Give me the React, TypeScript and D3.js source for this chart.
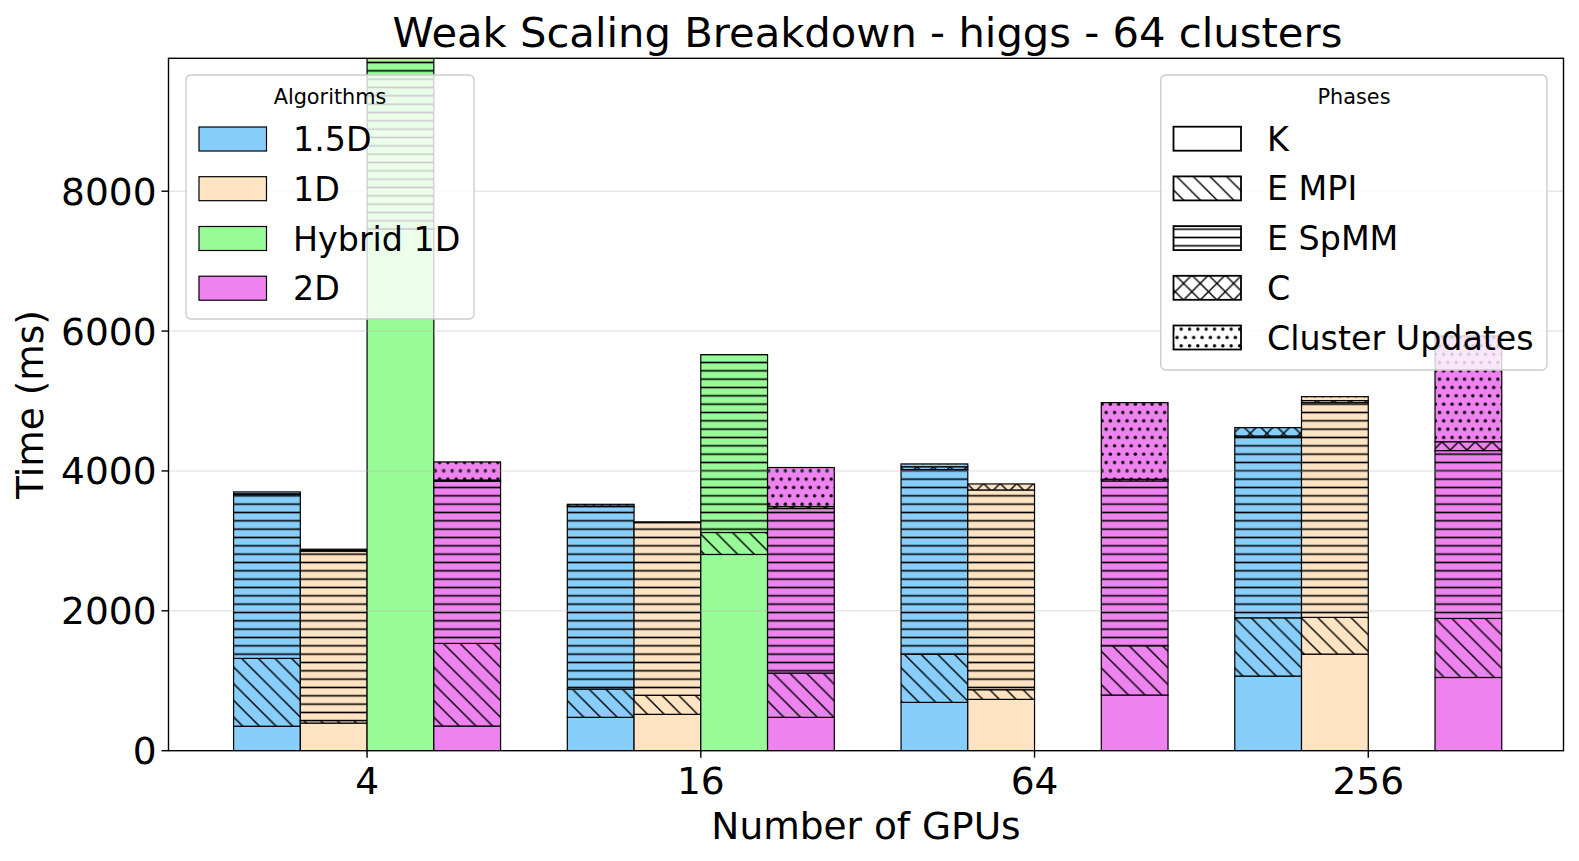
import React from 'react';
import * as d3 from 'd3';

// ---------- data ----------
const gpuLabels = ['4', '16', '64', '256'];
const algorithms = ['1.5D', '1D', 'Hybrid 1D', '2D'];
const algoColors = ['#87CEFA', '#FFE4C4', '#98FB98', '#EE82EE'];
const phases = ['K', 'E MPI', 'E SpMM', 'C', 'Cluster Updates'];
const phaseHatch = ['none', 'diag', 'horiz', 'cross', 'dots'];
const yTicks = [0, 2000, 4000, 6000, 8000];
const yMax = 9900;

// rows = phases (K, E MPI, E SpMM, C, Cluster Updates), columns = GPUs (4, 16, 64, 256)
const times1p5D = [
  [350, 477, 691, 1067],
  [970, 404, 686, 833],
  [2343, 2609, 2643, 2600],
  [10, 8, 40, 119],
  [27, 25, 40, 0],
];
const times1D = [
  [395, 520, 734, 1381],
  [35, 271, 138, 525],
  [2423, 2470, 2856, 3070],
  [10, 5, 86, 30],
  [18, 5, 0, 56],
];
const timesHybrid1D = [
  [7460, 2806, null, null],
  [0, 314, null, null],
  [3000, 2543, null, null],
  [0, 0, null, null],
  [0, 0, null, null],
];
const times2D = [
  [353, 477, 796, 1047],
  [1181, 633, 704, 844],
  [2319, 2353, 2357, 2400],
  [17, 28, 24, 127],
  [259, 558, 1096, 1512],
];
const allTimes = [times1p5D, times1D, timesHybrid1D, times2D];

// ---------- layout ----------
const W = 1579;
const H = 861;
const L = 168.5;
const R = 1563.5;
const T = 58.3;
const B = 750.7;
const FONT = 'DejaVu Sans, sans-serif';

const HP = 16.67; // hatch period (diagonals)
const HS = 8.333; // hatch period (dense)

function Patterns() {
  const sw = 1.4;
  return (
    <defs>
      <pattern id="diag" patternUnits="userSpaceOnUse" width={HP} height={HP}>
        <path
          d={`M-2,-2 L${HP + 2},${HP + 2} M${HP - 2},-2 L${HP + 2},2 M-2,${HP - 2} L2,${HP + 2}`}
          stroke="#000"
          strokeWidth={sw}
          fill="none"
        />
      </pattern>
      <pattern id="cross" patternUnits="userSpaceOnUse" width={HP} height={HP}>
        <path
          d={`M-2,-2 L${HP + 2},${HP + 2} M${HP - 2},-2 L${HP + 2},2 M-2,${HP - 2} L2,${HP + 2} M-2,${HP + 2} L${HP + 2},-2 M-2,2 L2,-2 M${HP - 2},${HP + 2} L${HP + 2},${HP - 2}`}
          stroke="#000"
          strokeWidth={sw}
          fill="none"
        />
      </pattern>
      <pattern id="horiz" patternUnits="userSpaceOnUse" width={20} height={HS}>
        <line x1={0} x2={20} y1={HS / 2} y2={HS / 2} stroke="#000" strokeWidth={1.6} />
      </pattern>
      <pattern id="dots" patternUnits="userSpaceOnUse" width={HS} height={HS * 2}>
        <circle cx={HS / 4} cy={HS / 2} r={1.7} fill="#000" />
        <circle cx={(HS * 3) / 4} cy={(HS * 3) / 2} r={1.7} fill="#000" />
      </pattern>
      <clipPath id="plotClip">
        <rect x={L} y={T} width={R - L} height={B - T} />
      </clipPath>
    </defs>
  );
}

export default function App() {
  const x = d3.scaleLinear().domain([-0.595, 3.585]).range([L, R]);
  const y = d3.scaleLinear().domain([0, yMax]).range([B, T]);
  const bw = 0.2;

  const segments: any[] = [];
  allTimes.forEach((alg, ai) => {
    gpuLabels.forEach((_, gi) => {
      let base = 0;
      phases.forEach((__, pi) => {
        const v = alg[pi][gi];
        if (v == null || v <= 0) return;
        const x0 = x(gi + (ai - 2) * bw);
        const x1 = x(gi + (ai - 1) * bw);
        const y0 = y(base + v);
        const y1 = y(base);
        segments.push({ key: `${ai}-${gi}-${pi}`, x: x0, w: x1 - x0, y: y0, h: y1 - y0, color: algoColors[ai], hatch: phaseHatch[pi] });
        base += v;
      });
    });
  });

  const legendFont = 33.3;
  const axisFont = 37.5;
  const algoRowsY = [139, 188.7, 238.5, 288.2];
  const phaseRowsY = [138.7, 188.4, 238.1, 287.8, 337.5];

  return (
    <svg width={W} height={H} style={{ position: 'absolute', left: 0, top: 0, background: '#fff' }} fontFamily={FONT}>
      <Patterns />
      <rect x={0} y={0} width={W} height={H} fill="#fff" />
      {/* bars */}
      <g clipPath="url(#plotClip)">
        {segments.map((s) => (
          <g key={s.key}>
            <rect x={s.x} y={s.y} width={s.w} height={s.h} fill={s.color} />
            {s.hatch !== 'none' && <rect x={s.x} y={s.y} width={s.w} height={s.h} fill={`url(#${s.hatch})`} />}
            <rect x={s.x} y={s.y} width={s.w} height={s.h} fill="none" stroke="#000" strokeWidth={1.2} />
          </g>
        ))}
        {/* grid on top of bars */}
        {yTicks.map((t) => (
          <line key={t} x1={L} x2={R} y1={y(t)} y2={y(t)} stroke="#b0b0b0" strokeOpacity={0.3} strokeWidth={1.4} />
        ))}
      </g>

      {/* spines */}
      <rect x={L} y={T} width={R - L} height={B - T} fill="none" stroke="#000" strokeWidth={1.4} />

      {/* y ticks */}
      {yTicks.map((t) => (
        <g key={t}>
          <line x1={L - 7} x2={L} y1={y(t)} y2={y(t)} stroke="#000" strokeWidth={1.4} />
          <text x={L - 12} y={y(t) + 13.5} fontSize={axisFont} textAnchor="end" fill="#000">
            {t}
          </text>
        </g>
      ))}
      {/* x ticks */}
      {gpuLabels.map((g, gi) => (
        <g key={g}>
          <line x1={x(gi)} x2={x(gi)} y1={B} y2={B + 7} stroke="#000" strokeWidth={1.4} />
          <text x={x(gi)} y={793.5} fontSize={axisFont} textAnchor="middle" fill="#000">
            {g}
          </text>
        </g>
      ))}

      {/* labels */}
      <text x={(L + R) / 2 + 1.5} y={47} fontSize={41.7} textAnchor="middle" fill="#000">
        Weak Scaling Breakdown - higgs - 64 clusters
      </text>
      <text x={(L + R) / 2} y={839} fontSize={axisFont} textAnchor="middle" fill="#000">
        Number of GPUs
      </text>
      <text transform={`translate(42.5,${(T + B) / 2}) rotate(-90)`} fontSize={axisFont} textAnchor="middle" fill="#000">
        Time (ms)
      </text>

      {/* Algorithms legend */}
      <g>
        <rect x={186} y={75} width={288} height={244} rx={5} fill="#fff" fillOpacity={0.8} stroke="#cccccc" strokeWidth={1.4} />
        <text x={330} y={103.5} fontSize={20.8} textAnchor="middle" fill="#000">
          Algorithms
        </text>
        {algorithms.map((a, i) => (
          <g key={a}>
            <rect x={199} y={algoRowsY[i] - 12} width={67.5} height={24} fill={algoColors[i]} stroke="#000" strokeWidth={1.2} />
            <text x={293} y={algoRowsY[i] + 12} fontSize={legendFont} fill="#000">
              {a}
            </text>
          </g>
        ))}
      </g>

      {/* Phases legend */}
      <g>
        <rect x={1160.7} y={75} width={386.3} height={295} rx={5} fill="#fff" fillOpacity={0.8} stroke="#cccccc" strokeWidth={1.4} />
        <text x={1354} y={103.5} fontSize={20.8} textAnchor="middle" fill="#000">
          Phases
        </text>
        {phases.map((p, i) => (
          <g key={p}>
            <rect x={1173.5} y={phaseRowsY[i] - 12} width={67.5} height={24} fill="#fff" />
            {phaseHatch[i] !== 'none' && (
              <rect x={1173.5} y={phaseRowsY[i] - 12} width={67.5} height={24} fill={`url(#${phaseHatch[i]})`} />
            )}
            <rect x={1173.5} y={phaseRowsY[i] - 12} width={67.5} height={24} fill="none" stroke="#000" strokeWidth={1.8} />
            <text x={1267} y={phaseRowsY[i] + 12} fontSize={legendFont} fill="#000">
              {p}
            </text>
          </g>
        ))}
      </g>
    </svg>
  );
}
